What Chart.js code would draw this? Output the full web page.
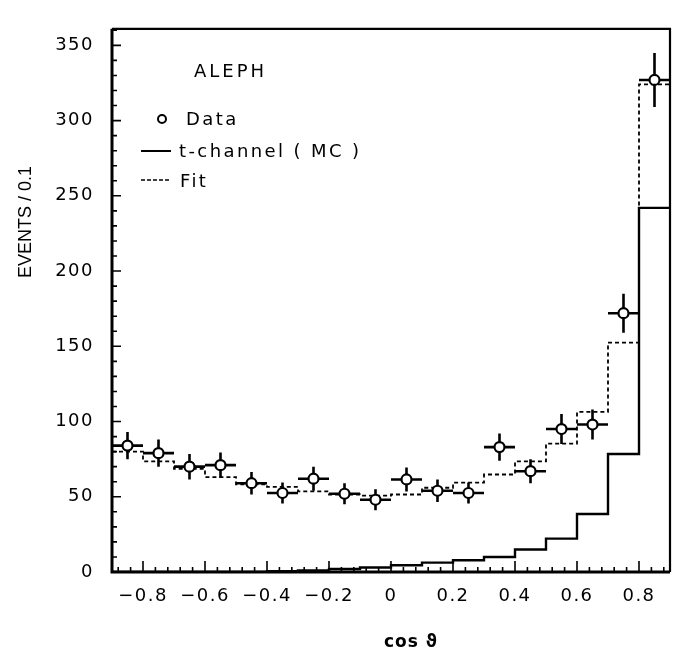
<!DOCTYPE html>
<html>
<head>
<meta charset="utf-8">
<script src="https://cdn.jsdelivr.net/npm/chart.js@4.4.1/dist/chart.umd.min.js"></script>
<style>
  html, body { margin: 0; padding: 0; background: #fff; }
</style>
</head>
<body>
<canvas id="grafico" width="679" height="653"></canvas>
<script>
// bins of 0.1 in cos(theta), -0.9 .. 0.9
const binCenters = [-0.85, -0.75, -0.65, -0.55, -0.45, -0.35, -0.25, -0.15, -0.05,
                    0.05, 0.15, 0.25, 0.35, 0.45, 0.55, 0.65, 0.75, 0.85];
const dataEvents = [84, 79, 70, 71, 59, 52.5, 62, 52, 48, 61.5, 54, 52.5, 83, 67, 95, 98, 172, 327];
const dataErrors = [9, 9, 8.5, 8.5, 7.5, 7, 8, 7, 7, 8, 7.5, 7, 9, 8, 10, 10, 13, 18];
const fitEvents = [80, 73.5, 68.5, 63, 58.3, 56.6, 53.6, 51.5, 50.8, 51.5, 56, 59.4, 64.8, 73.5, 85.3, 106.4, 152.5, 324];
const mcEvents = [0, 0, 0, 0, 0, 0.5, 1, 2, 3, 4.5, 6.2, 7.8, 10, 15, 22.2, 38.5, 78.4, 242];
const binWidth = 0.1;

const xTicks = [-0.8, -0.6, -0.4, -0.2, 0, 0.2, 0.4, 0.6, 0.8];
const yTicks = [0, 50, 100, 150, 200, 250, 300, 350];

const FONT = "'DejaVu Sans', sans-serif";

// step histogram: one point per lower bin edge, plus the last upper edge
function histo(values) {
  const pts = values.map((v, i) => ({ x: binCenters[i] - binWidth / 2, y: v }));
  pts.push({ x: binCenters[values.length - 1] + binWidth / 2, y: values[values.length - 1] });
  return pts;
}

const errorBars = {
  id: "errorBars",
  beforeDatasetDraw(chart, args) {
    if (args.index !== 2) return;
    const { ctx, scales: { x, y } } = chart;
    ctx.save();
    ctx.strokeStyle = "#000";
    ctx.lineWidth = 2.6;
    dataEvents.forEach((v, i) => {
      const cx = x.getPixelForValue(binCenters[i]);
      const cy = y.getPixelForValue(v);
      ctx.beginPath();
      ctx.moveTo(x.getPixelForValue(binCenters[i] - binWidth / 2), cy);
      ctx.lineTo(x.getPixelForValue(binCenters[i] + binWidth / 2), cy);
      ctx.moveTo(cx, y.getPixelForValue(v - dataErrors[i]));
      ctx.lineTo(cx, y.getPixelForValue(v + dataErrors[i]));
      ctx.stroke();
    });
    ctx.restore();
  }
};

// frame with inward ticks, axis titles and the legend box
const frameAndText = {
  id: "frameAndText",
  beforeDraw(chart) {
    chart.ctx.letterSpacing = "1.5px";
  },
  afterDraw(chart) {
    const { ctx, chartArea: a, scales: { x, y } } = chart;
    ctx.save();
    ctx.strokeStyle = "#000";
    ctx.lineCap = "butt";

    // ticks
    ctx.lineWidth = 1.6;
    ctx.beginPath();
    for (let v = 0; v <= 360; v += 10) {
      const py = y.getPixelForValue(v);
      const len = v % 50 === 0 ? 9 : 5;
      ctx.moveTo(a.left, py); ctx.lineTo(a.left + len, py);
    }
    for (let k = -22; k <= 22; k++) {
      const v = k * 0.04;
      const px = x.getPixelForValue(v);
      const len = k % 5 === 0 ? 11 : 5;
      ctx.moveTo(px, a.bottom); ctx.lineTo(px, a.bottom - len);
    }
    ctx.stroke();

    // frame
    ctx.lineWidth = 3;
    ctx.beginPath();
    ctx.moveTo(a.left, a.top); ctx.lineTo(a.left, a.bottom); ctx.lineTo(a.right, a.bottom);
    ctx.stroke();
    ctx.lineWidth = 2.2;
    ctx.beginPath();
    ctx.moveTo(a.left, a.top); ctx.lineTo(a.right, a.top); ctx.lineTo(a.right, a.bottom);
    ctx.stroke();

    // axis titles
    ctx.fillStyle = "#000";
    ctx.letterSpacing = "0px";
    ctx.textAlign = "center";
    ctx.textBaseline = "middle";
    ctx.save();
    ctx.translate(26, 222);
    ctx.rotate(-Math.PI / 2);
    ctx.font = "18px 'Liberation Sans', sans-serif";
    ctx.fillText("EVENTS / 0.1", 0, 0);
    ctx.restore();
    ctx.font = "bold 17px " + FONT;
    ctx.letterSpacing = "1px";
    ctx.fillText("cos \u03d1", 411, 643);

    // legend
    ctx.textAlign = "left";
    ctx.font = "18px " + FONT;
    ctx.letterSpacing = "3px";
    ctx.fillText("ALEPH", 194, 72);
    ctx.letterSpacing = "2.4px";
    ctx.fillText("Data", 186, 120);
    ctx.fillText("t-channel ( MC )", 179, 152);
    ctx.fillText("Fit", 180, 182);
    ctx.lineWidth = 2;
    ctx.beginPath();
    ctx.arc(162, 119, 4, 0, Math.PI * 2);
    ctx.stroke();
    ctx.beginPath();
    ctx.moveTo(141, 151); ctx.lineTo(171, 151);
    ctx.stroke();
    ctx.setLineDash([4, 2]);
    ctx.lineWidth = 1.6;
    ctx.beginPath();
    ctx.moveTo(141, 180); ctx.lineTo(171, 180);
    ctx.stroke();
    ctx.restore();
  }
};

new Chart(document.getElementById("grafico"), {
  type: "scatter",
  data: {
    datasets: [
      {
        type: "line",
        label: "t-channel ( MC )",
        data: histo(mcEvents),
        stepped: "before",
        borderColor: "#000",
        borderWidth: 2.4,
        pointRadius: 0,
        fill: false,
        order: 2
      },
      {
        type: "line",
        label: "Fit",
        data: histo(fitEvents),
        stepped: "before",
        borderColor: "#000",
        borderWidth: 1.8,
        borderDash: [4, 3],
        pointRadius: 0,
        fill: false,
        order: 1
      },
      {
        label: "Data",
        data: dataEvents.map((v, i) => ({ x: binCenters[i], y: v })),
        pointStyle: "circle",
        pointRadius: 5,
        pointBackgroundColor: "#fff",
        pointBorderColor: "#000",
        pointBorderWidth: 2.2,
        order: 0
      }
    ]
  },
  options: {
    responsive: false,
    animation: false,
    events: [],
    layout: { padding: { top: 13, right: 9, left: 0, bottom: 0 } },
    plugins: { legend: { display: false }, tooltip: { enabled: false } },
    scales: {
      x: {
        type: "linear",
        min: -0.9,
        max: 0.9,
        afterBuildTicks: (s) => { s.ticks = xTicks.map((v) => ({ value: v })); },
        afterFit: (s) => { s.height = 81; },
        grid: { display: false, drawTicks: false },
        border: { display: false },
        ticks: {
          padding: 14,
          color: "#000",
          font: { family: FONT, size: 18 },
          maxRotation: 0,
          autoSkip: false,
          callback: (v) => (v === 0 ? "0" : v.toFixed(1).replace("-", "\u2212"))
        }
      },
      y: {
        min: 0,
        max: 361,
        afterBuildTicks: (s) => { s.ticks = yTicks.map((v) => ({ value: v })); },
        afterFit: (s) => { s.width = 112; },
        grid: { display: false, drawTicks: false },
        border: { display: false },
        ticks: {
          padding: 18,
          color: "#000",
          font: { family: FONT, size: 18 },
          autoSkip: false
        }
      }
    }
  },
  plugins: [errorBars, frameAndText]
});
</script>
</body>
</html>
